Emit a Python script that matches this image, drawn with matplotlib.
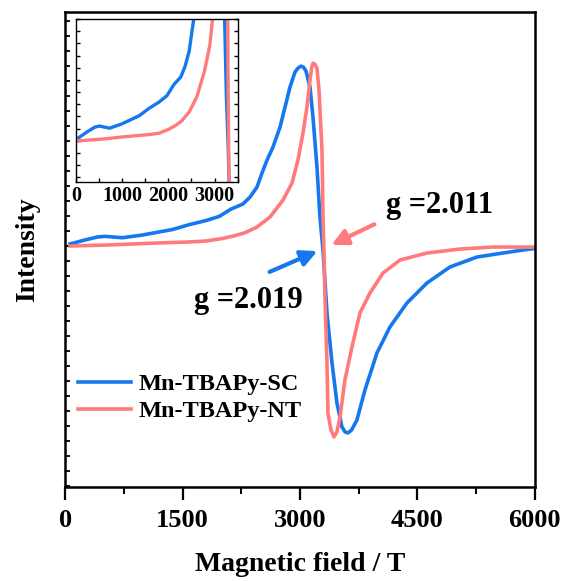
import matplotlib.pyplot as plt
from matplotlib.ticker import MultipleLocator

plt.rcParams['font.family'] = ['Liberation Serif', 'DejaVu Serif']
plt.rcParams['font.weight'] = 'bold'

# EPR spectra (field in T, intensity in arbitrary units)
sc_field = [65, 250, 410, 510, 730, 985, 1370, 1585, 1800, 1970, 2120, 2270, 2362,
            2451, 2515, 2579, 2655, 2745, 2809, 2872, 2936, 2974, 3013, 3045, 3077,
            3128, 3166, 3217, 3255, 3294, 3345, 3409, 3472, 3536, 3575, 3613, 3660,
            3728, 3830, 3983, 4149, 4366, 4621, 4915, 5260, 5591, 5936, 6000]
sc_int = [2.1, 6, 9, 9.7, 8.3, 11, 16.5, 21.4, 25.5, 29.7, 37, 42, 49,
          59, 73, 86, 99, 119, 139, 159, 174, 178, 180, 179, 175,
          159, 129, 79, 29, -4, -67, -117, -157, -181, -186, -187, -184,
          -174, -144, -107, -81, -57, -37, -21, -11, -7, -3, -2.5]

nt_field = [65, 600, 1090, 1585, 1800, 2010, 2150, 2290, 2451, 2617, 2783, 2898,
            2974, 3038, 3089, 3128, 3150, 3166, 3190, 3217, 3243, 3281, 3294, 3306,
            3319, 3345, 3357, 3396, 3434, 3472, 3511, 3574, 3664, 3766, 3894, 4060,
            4277, 4621, 5043, 5464, 6000]
nt_int = [0, 1.2, 2.8, 4.1, 5, 7.6, 10, 13.1, 19, 29, 46, 63,
          86, 113, 139, 166, 179, 183, 182, 178, 156, 96, 29, -4,
          -51, -117, -167, -184, -191, -186, -171, -134, -101, -67, -47, -27,
          -14, -7, -3, -1, -1]

labels = ['Mn-TBAPy-SC', 'Mn-TBAPy-NT']
blue = '#1478EE'
red = '#FF7B7B'

fig = plt.figure(figsize=(5.66, 5.81), dpi=100)
ax = fig.add_axes([0.115, 0.162, 0.83, 0.817])
ax.plot(sc_field, sc_int, color=blue, lw=2.6, label=labels[0])
ax.plot(nt_field, nt_int, color=red, lw=2.6, label=labels[1])
ax.set_xlim(0, 6000)
ax.set_ylim(-241, 234)
ax.set_xticks([0, 1500, 3000, 4500, 6000])
ax.xaxis.set_minor_locator(MultipleLocator(750))
ax.yaxis.set_major_locator(MultipleLocator(30))
ax.yaxis.set_minor_locator(MultipleLocator(15))
ax.tick_params(axis='x', which='major', direction='out', length=9, width=1.6,
               labelsize=19, pad=7)
ax.tick_params(axis='x', which='minor', direction='out', length=5, width=1.4)
ax.tick_params(axis='y', which='both', direction='in', length=3.5, width=1.3,
               labelleft=False)
for s in ax.spines.values():
    s.set_linewidth(1.8)
ax.set_xlabel('Magnetic field / T', fontsize=20, fontweight='bold', labelpad=14)
ax.set_ylabel('Intensity', fontsize=20, fontweight='bold', labelpad=18)

ax.legend(loc='lower left', bbox_to_anchor=(-0.02, 0.09), frameon=False,
          fontsize=17.5, handlelength=2.2, handletextpad=0.3, labelspacing=0.2)

ax.annotate('', xy=(3369, 0), xytext=(3983, 23),
            arrowprops=dict(arrowstyle='-|>', color=red, lw=3, mutation_scale=24))
ax.annotate('', xy=(3255, -4), xytext=(2579, -27),
            arrowprops=dict(arrowstyle='-|>', color=blue, lw=3, mutation_scale=24))
ax.text(4787, 41, 'g =2.011', fontsize=22, fontweight='bold', ha='center', va='center')
ax.text(2336, -54, 'g =2.019', fontsize=22, fontweight='bold', ha='center', va='center')

# inset: low-field zoom
ins = fig.add_axes([0.134, 0.687, 0.286, 0.28])
ins.plot(sc_field, sc_int, color=blue, lw=2.4)
ins.plot(nt_field, nt_int, color=red, lw=2.4)
ins.set_xlim(0, 3500)
ins.set_ylim(-27, 80)
ins.set_xticks([0, 1000, 2000, 3000])
ins.xaxis.set_minor_locator(MultipleLocator(500))
ins.yaxis.set_major_locator(MultipleLocator(8))
ins.tick_params(axis='x', which='both', direction='in', length=3, width=1, labelsize=14.5, pad=3)
ins.tick_params(axis='y', which='both', direction='in', length=3, width=1,
                left=True, right=True, labelleft=False)
for s in ins.spines.values():
    s.set_linewidth(1.0)

fig.savefig('out.png', dpi=100)
